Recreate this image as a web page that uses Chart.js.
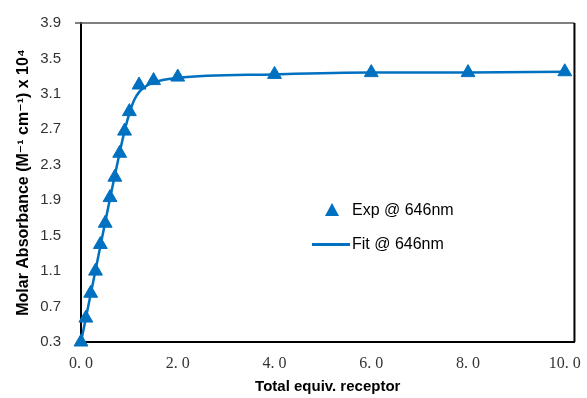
<!DOCTYPE html>
<html>
<head>
<meta charset="utf-8">
<script src="https://cdn.jsdelivr.net/npm/chart.js@4.4.0/dist/chart.umd.min.js"></script>
<style>
  html, body { margin: 0; padding: 0; background: #fff; }
  #wrap { position: relative; width: 587px; height: 398px; }
  #legend { position: absolute; left: 312px; top: 193px; font: 16px "Liberation Sans", "DejaVu Sans", sans-serif; color: #000; }
  .row { display: flex; align-items: center; height: 34px; }
  .sym { width: 40px; height: 20px; position: relative; }
  .tri { position: absolute; left: 13px; top: 3px; width: 0; height: 0;
         border-left: 7px solid transparent; border-right: 7px solid transparent; border-bottom: 13px solid #0070c0; }
  .ln { position: absolute; left: 0; top: 9px; width: 38px; height: 3px; background: #0070c0; }
</style>
</head>
<body>
<div id="wrap">
  <canvas id="c" width="587" height="398"></canvas>
  <div id="legend">
    <div class="row"><div class="sym"><div class="tri"></div></div><span>Exp @ 646nm</span></div>
    <div class="row"><div class="sym"><div class="ln"></div></div><span>Fit @ 646nm</span></div>
  </div>
</div>
<script>
// experimental points
const expX = [0, 0.1, 0.2, 0.3, 0.4, 0.5, 0.6, 0.7, 0.8, 0.9, 1.0, 1.2, 1.5, 2.0, 4.0, 6.0, 8.0, 10.0];
const expY = [0.30, 0.57, 0.85, 1.10, 1.40, 1.64, 1.93, 2.16, 2.43, 2.68, 2.90, 3.20, 3.25, 3.29, 3.32, 3.34, 3.34, 3.35];

// fit curve
const fitX = [0, 0.1, 0.2, 0.3, 0.4, 0.5, 0.6, 0.7, 0.8, 0.9, 1.0, 1.1, 1.2, 1.3, 1.5, 2.0, 4.0, 6.0, 8.0, 10.0];
const fitY = [0.30, 0.57, 0.84, 1.11, 1.38, 1.65, 1.92, 2.18, 2.44, 2.68, 2.88, 3.03, 3.12, 3.17, 3.23, 3.28, 3.32, 3.34, 3.34, 3.35];

const xTicks = [0, 2, 4, 6, 8, 10];
const yTicks = [0.3, 0.7, 1.1, 1.5, 1.9, 2.3, 2.7, 3.1, 3.5, 3.9];

const blue = '#0070c0';
const sans = '"Liberation Sans", "DejaVu Sans", sans-serif';

const framePlugin = {
  id: 'frame',
  beforeDatasetsDraw(chart) {
    const a = chart.chartArea;
    const ctx = chart.ctx;
    ctx.save();
    ctx.strokeStyle = '#555';
    ctx.lineWidth = 1.5;
    ctx.beginPath();
    ctx.moveTo(a.left - 6, a.top);
    ctx.lineTo(a.right, a.top);
    ctx.stroke();
    ctx.strokeStyle = '#000';
    ctx.lineWidth = 2;
    ctx.beginPath();
    ctx.moveTo(a.right, a.top);
    ctx.lineTo(a.right, a.bottom);
    ctx.stroke();
    ctx.restore();
  }
};

new Chart(document.getElementById('c'), {
  type: 'scatter',
  data: {
    datasets: [
      {
        label: 'Exp @ 646nm',
        data: expX.map((x, i) => ({ x: x, y: expY[i] })),
        pointStyle: 'triangle',
        pointRadius: 8,
        backgroundColor: blue,
        borderColor: blue,
        borderWidth: 1,
        showLine: false,
        clip: false,
        order: 1
      },
      {
        label: 'Fit @ 646nm',
        data: fitX.map((x, i) => ({ x: x, y: fitY[i] })),
        showLine: true,
        pointRadius: 0,
        borderColor: blue,
        borderWidth: 2.5,
        cubicInterpolationMode: 'monotone',
        fill: false,
        order: 2
      }
    ]
  },
  options: {
    responsive: false,
    animation: false,
    layout: { padding: { top: 20, right: 11, left: 0, bottom: 0 } },
    plugins: { legend: { display: false }, tooltip: { enabled: false } },
    scales: {
      x: {
        type: 'linear',
        min: 0,
        max: 10.2,
        afterBuildTicks: s => { s.ticks = xTicks.map(v => ({ value: v })); },
        afterFit: s => { s.height = 56; },
        grid: { display: false, drawOnChartArea: false, drawTicks: true, tickLength: 6, tickColor: '#000', tickWidth: 1.5 },
        border: { display: true, color: '#000', width: 2 },
        ticks: {
          color: '#333',
          padding: 6,
          font: { family: '"Liberation Serif", "DejaVu Serif", serif', size: 16 },
          callback: v => v.toFixed(1).replace('.', '. ')
        },
        title: {
          display: true,
          text: 'Total equiv. receptor',
          color: '#000',
          font: { family: sans, size: 15, weight: 'bold' },
          padding: { top: 2, bottom: 2 }
        }
      },
      y: {
        type: 'linear',
        min: 0.3,
        max: 3.9,
        afterBuildTicks: s => { s.ticks = yTicks.map(v => ({ value: v })); },
        afterFit: s => { s.width = 81; },
        grid: { display: false, drawOnChartArea: false, drawTicks: true, tickLength: 6, tickColor: '#000', tickWidth: 1.5 },
        border: { display: true, color: '#000', width: 2 },
        ticks: {
          color: '#333',
          padding: 14,
          font: { family: sans, size: 15 },
          callback: v => v.toFixed(1)
        },
        title: {
          display: true,
          text: 'Molar Absorbance (M\u207B\u00B9 cm\u207B\u00B9) x 10\u2074',
          color: '#000',
          font: { family: sans, size: 16, weight: 'bold' },
          padding: { top: 14, bottom: 0 }
        }
      }
    }
  },
  plugins: [framePlugin]
});
</script>
</body>
</html>
